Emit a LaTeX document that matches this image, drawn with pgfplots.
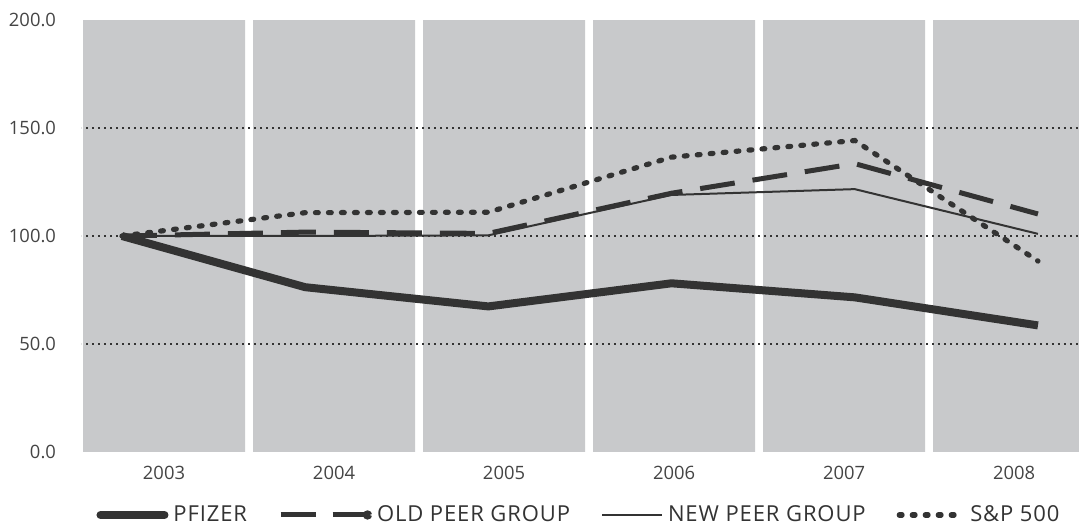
\documentclass[border=0pt]{standalone}
\usepackage{fontspec}
\setmainfont{Open Sans}
\newfontfamily\legendfont[LetterSpace=4]{Open Sans}
\usepackage{pgfplots}
\pgfplotsset{compat=1.18}
\definecolor{colgray}{HTML}{C8C9CB}
\definecolor{ink}{HTML}{333333}
\definecolor{txt}{HTML}{444444}

\begin{document}
\begin{tikzpicture}
\pgfplotsset{
  base/.style={scale only axis, width=498.5pt, height=216pt, ymin=0, ymax=200},
}
% background columns, grid and tick labels
\begin{axis}[base, name=ax,
  xmin=-0.4824, xmax=5.382,
  axis line style={draw=none},
  tick style={draw=none},
  xtick={0,1,2,3,4,5},
  xticklabels={2003,2004,2005,2006,2007,2008},
  ytick={0,50,100,150,200},
  yticklabels={0.0,50.0,100.0,150.0,200.0},
  tick label style={font=\fontsize{9.2}{10}\selectfont, text=txt},
  yticklabel style={xshift=-9.5pt},
  xticklabel style={yshift=-3.75pt},
]
\addplot[ybar, bar width=0.953, fill=colgray, draw=none]
  coordinates {(0,200) (1,200) (2,200) (3,200) (4,200) (5,200)};
\foreach \g in {50,100,150}{
  \edef\tmp{\noexpand\draw[color=black!80, line width=1.2pt, dash pattern=on 1.1pt off 1.9pt]
    (axis cs:-0.6,\g) -- (axis cs:5.5,\g);}\tmp
}
\end{axis}
% the four series
\begin{axis}[base, xmin=2002.782, xmax=2008.224, hide axis,
  legend columns=4,
  legend style={at={(0.5,-0.1458)}, anchor=center, draw=none, fill=none,
    font=\legendfont\fontsize{11}{12}\selectfont, text=ink,
    inner sep=0pt, nodes={inner xsep=2.5pt, inner ysep=1.5pt},
    /tikz/every even column/.append style={column sep=13pt}},
]
\addplot[ink, line width=4pt, line join=round,
  legend image code/.code={\draw[ink, line width=4pt, line cap=round] (0pt,0pt)--(32pt,0pt);}]
  coordinates {(2003,100) (2004,76.3) (2005,67.4) (2006,78.1) (2007,71.6) (2008,58.6)};
\addlegendentry{PFIZER}
\addplot[ink, line width=2.5pt, dash pattern=on 17.5pt off 9pt,
  legend image code/.code={\draw[ink, line width=2.5pt] (0pt,0pt)--(18pt,0pt) (26pt,0pt)--(42pt,0pt); \fill[ink] (43.5pt,0pt) circle (1pt);}]
  coordinates {(2003,100) (2004,101.8) (2005,101.2) (2006,119.8) (2007,133.5) (2008,110.2)};
\addlegendentry{OLD PEER GROUP}
\addplot[ink, line width=1pt,
  legend image code/.code={\draw[ink, line width=1pt] (0pt,0pt)--(30pt,0pt);}]
  coordinates {(2003,100) (2004,100) (2005,100.3) (2006,119) (2007,121.7) (2008,101)};
\addlegendentry{NEW PEER GROUP}
\addplot[ink, line width=2.6pt, line cap=round, dash pattern=on 1.4pt off 5.1pt,
  legend image code/.code={\draw[ink, line width=2.6pt, line cap=round, dash pattern=on 1.4pt off 5.1pt] (1.3pt,0pt)--(33pt,0pt);}]
  coordinates {(2003,100) (2004,110.8) (2005,111) (2006,136.5) (2007,144.2) (2008,88.4)};
\addlegendentry{S\&P 500}
\end{axis}
\pgfresetboundingbox
\path[use as bounding box] ([xshift=-41pt,yshift=-36.5pt]ax.south west) rectangle ([yshift=10pt]ax.north east);
\end{tikzpicture}
\end{document}
